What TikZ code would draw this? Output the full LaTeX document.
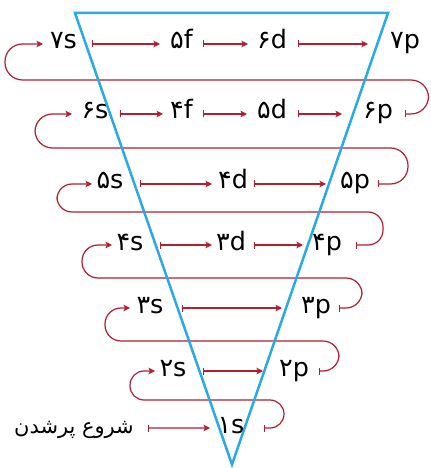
\documentclass[tikz,border=0pt]{standalone}
\usepackage{fontspec}
\setmainfont{DejaVu Sans}
\newfontfamily\fa[Script=Arabic]{DejaVu Sans}
\TeXXeTstate=1
\usetikzlibrary{arrows.meta}
\definecolor{funnelblue}{RGB}{41,170,226}
\definecolor{linkred}{RGB}{176,32,48}
\begin{document}
\begin{tikzpicture}[x=1bp,y=-1bp,
  lbl/.style={inner sep=0pt, text height=15bp, text depth=5bp, font=\fontsize{25.5}{30}\selectfont},
  startlbl/.style={inner sep=0pt, font=\fontsize{21}{24}\selectfont},
  link/.style={draw=linkred, line width=1.2bp, {Bar[width=7bp]}-{Stealth[length=6.5bp,width=6.5bp,inset=1.5bp]}},
  funnel/.style={draw=funnelblue, line width=2.5bp}
]
\fill[white] (0,0) rectangle (430,468);
\useasboundingbox (0,0) rectangle (430,468);

% labels
\node[lbl] (s7) at (63.5,44) {۷s};
\node[lbl] (f5) at (181.5,44) {۵f};
\node[lbl] (d6) at (272,44) {۶d};
\node[lbl] (p7) at (405,44) {۷p};
\node[lbl] (s6) at (95,114) {۶s};
\node[lbl] (f4) at (181.5,114) {۴f};
\node[lbl] (d5) at (272,114) {۵d};
\node[lbl] (p6) at (378,114) {۶p};
\node[lbl] (s5) at (110,184) {۵s};
\node[lbl] (d4) at (233,184) {۴d};
\node[lbl] (p5) at (355,184) {۵p};
\node[lbl] (s4) at (130,245) {۴s};
\node[lbl] (d3) at (231,245) {۳d};
\node[lbl] (p4) at (327,245) {۴p};
\node[lbl] (s3) at (150,308) {۳s};
\node[lbl] (p3) at (316,308) {۳p};
\node[lbl] (s2) at (173,371) {۲s};
\node[lbl] (p2) at (294,371) {۲p};
\node[lbl] (s1) at (231,428) {۱s};
\node[startlbl] (st) at (74,430) {\fa\beginR شروع پرشدن\endR};

% row arrows
\draw[link] ([xshift=28.5bp]s7.center) -- ([xshift=-21.5bp]f5.center);
\draw[link] ([xshift=21.5bp]f5.center) -- ([xshift=-24bp]d6.center);
\draw[link] ([xshift=26bp]d6.center) -- ([xshift=-37bp]p7.center);
\draw[link] ([xshift=25bp]s6.center) -- ([xshift=-18.5bp]f4.center);
\draw[link] ([xshift=21.5bp]f4.center) -- ([xshift=-25bp]d5.center);
\draw[link] ([xshift=26bp]d5.center) -- ([xshift=-36bp]p6.center);
\draw[link] ([xshift=30bp]s5.center) -- ([xshift=-21bp]d4.center);
\draw[link] ([xshift=21bp]d4.center) -- ([xshift=-29bp]p5.center);
\draw[link] ([xshift=30bp]s4.center) -- ([xshift=-19bp]d3.center);
\draw[link] ([xshift=23bp]d3.center) -- ([xshift=-24bp]p4.center);
\draw[link] ([xshift=32bp]s3.center) -- ([xshift=-34bp]p3.center);
\draw[link] ([xshift=30bp]s2.center) -- ([xshift=-31bp]p2.center);
\draw[link] ([xshift=74bp,yshift=2bp]st.center) -- ([xshift=-21bp]s1.center);

% turn-around loops
\draw[link, rounded corners=14bp] ([xshift=33bp]s1.center) -| (284,400) -| ([xshift=-43bp]s2.center) -- ([xshift=-18bp]s2.center);
\draw[link, rounded corners=16bp] ([xshift=25bp]p2.center) -| (339,341) -| ([xshift=-45bp]s3.center) -- ([xshift=-20bp]s3.center);
\draw[link, rounded corners=16bp] ([xshift=23bp]p3.center) -| (362,278) -| ([xshift=-48bp]s4.center) -- ([xshift=-18bp]s4.center);
\draw[link, rounded corners=15bp] ([xshift=29bp]p4.center) -| (383,212) -| ([xshift=-53bp]s5.center) -- ([xshift=-18bp]s5.center);
\draw[link, rounded corners=17.5bp] ([xshift=23bp]p5.center) -| (408,148) -| ([xshift=-60bp]s6.center) -- ([xshift=-23bp]s6.center);
\draw[link, rounded corners=17.5bp] ([xshift=27bp]p6.center) -| (428.5,80) -| ([xshift=-58.5bp]s7.center) -- ([xshift=-20.5bp]s7.center);

% funnel
\draw[funnel] (75,13) -- (388,13) -- (232,464.5) -- cycle;
\end{tikzpicture}
\end{document}
